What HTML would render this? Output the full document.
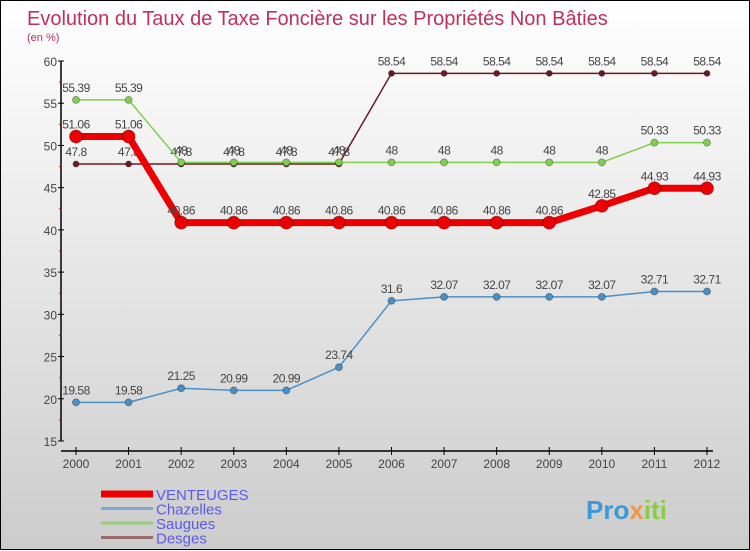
<!DOCTYPE html>
<html><head><meta charset="utf-8"><style>
body{margin:0;width:750px;height:550px;overflow:hidden;font-family:"Liberation Sans",sans-serif}
#wrap{position:relative;width:748px;height:548px;border:1px solid #000;background:linear-gradient(#ffffff,#f0f0f0 30%,#cccccc)}
svg{position:absolute;left:0;top:0}
</style></head><body>
<div id="wrap">
<svg id="chart" width="750" height="550">
<text x="26" y="24" font-size="20" fill="#c0305a">Evolution du Taux de Taxe Foncière sur les Propriétés Non Bâties</text>
<text x="26" y="40" font-size="11" fill="#c0305a">(en %)</text>
<text x="585" y="518" font-size="26" font-weight="bold" fill="#3a9ad9">Pro<tspan fill="#e94">x</tspan><tspan fill="#8c4">iti</tspan></text>
</svg>
</div>
<script>
const years=[2000,2001,2002,2003,2004,2005,2006,2007,2008,2009,2010,2011,2012];
const yTicks=[15,20,25,30,35,40,45,50,55,60];
const venteuges=[51.06,51.06,40.86,40.86,40.86,40.86,40.86,40.86,40.86,40.86,42.85,44.93,44.93];
const chazelles=[19.58,19.58,21.25,20.99,20.99,23.74,31.6,32.07,32.07,32.07,32.07,32.71,32.71];
const saugues=[55.39,55.39,48,48,48,48,48,48,48,48,48,50.33,50.33];
const desges=[47.8,47.8,47.8,47.8,47.8,47.8,58.54,58.54,58.54,58.54,58.54,58.54,58.54];
const svg=document.getElementById('chart');const NS='http://www.w3.org/2000/svg';
function X(i){return 75+i*(706-75)/(years.length-1);}
function Y(v){return 440-(v-15)*(380/45);}
function mk(t,a,p){const e=document.createElementNS(NS,t);for(const k in a)e.setAttribute(k,a[k]);(p||svg).appendChild(e);return e;}
let e;
e=mk('line',{x1:60,y1:Y(60),x2:60,y2:Y(15),stroke:'#000','stroke-width':1.5});


e=mk('line',{x1:60,y1:450,x2:712,y2:450,stroke:'#000','stroke-width':1.5});


yTicks.forEach(v=>{mk('line',{x1:57,x2:63,y1:Y(v),y2:Y(v),stroke:'#000'});
 if(v<60)mk('line',{x1:58,x2:61,y1:Y(v+2.5),y2:Y(v+2.5),stroke:'#e00'});
 e=mk('text',{x:56,y:Y(v)+5,'text-anchor':'end','font-size':12,fill:'#444'});e.textContent=v;
 
 });
years.forEach((y,i)=>{mk('line',{x1:X(i),x2:X(i),y1:446,y2:454,stroke:'#000'});
 e=mk('text',{x:X(i),y:467,'text-anchor':'middle','font-size':12,fill:'#444'});e.textContent=y;
 
 });
function series(data,color,w,r,name){
 const g=mk('g',{});
 
 
 mk('polyline',{points:data.map((v,i)=>X(i)+','+Y(v)).join(' '),fill:'none',stroke:color,'stroke-width':w},g);
 data.forEach((v,i)=>{const c=mk('circle',{cx:X(i),cy:Y(v),r:r,fill:color,stroke:'rgba(0,0,0,0.3)'},g);
  
  
  const t=mk('text',{x:X(i),y:Y(v)-8,'text-anchor':'middle','font-size':12,fill:'#444','letter-spacing':'-0.5'},g);t.textContent=v;
  
  });
}
series(desges,'#6b1a22',1.5,3,'desges');
series(saugues,'#80d050',1.5,3.5,'saugues');
series(venteuges,'#ee0000',7,6.5,'venteuges');
series(chazelles,'#4a90c8',1.5,3.5,'chazelles');
const leg=[['VENTEUGES','#ee0000',7],['Chazelles','#80aad0',3],['Saugues','#99d080',3],['Desges','#9a6a6a',3]];
leg.forEach((l,i)=>{const g=mk('g',{});
 
 
 const y=493+i*14.5;
 mk('line',{x1:100,x2:152,y1:y,y2:y,stroke:l[1],'stroke-width':l[2]},g);
 const t=mk('text',{x:155,y:y+6,'font-size':15,fill:'#5a5af0'},g);t.textContent=l[0];});
</script>
</body></html>
